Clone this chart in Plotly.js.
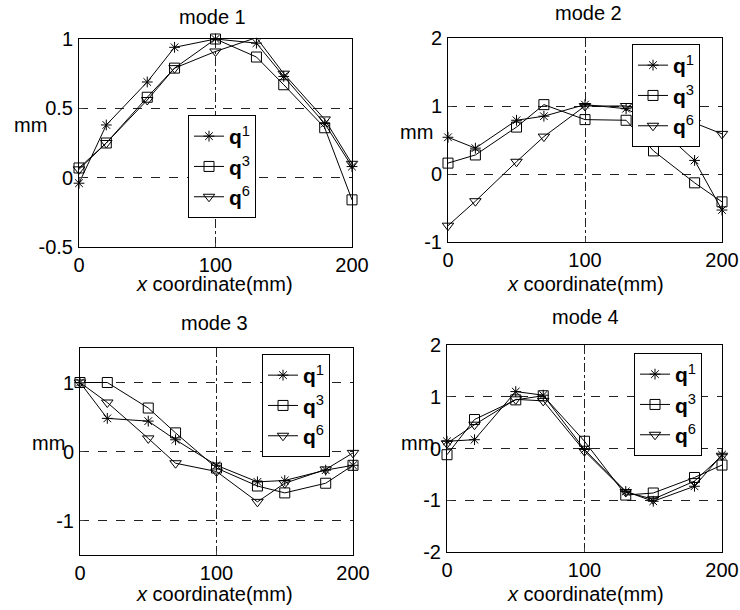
<!DOCTYPE html>
<html><head><meta charset="utf-8">
<script src="https://cdn.plot.ly/plotly-3.0.1.min.js"></script>
<style>html,body{margin:0;padding:0;background:#fff}#c{width:740px;height:610px}</style>
</head><body><div id="c"></div>
<script>
const xs = [0, 20, 50, 70, 100, 130, 150, 180, 200];
const seriesNames = ['q1', 'q3', 'q6'];
const legendLabels = ['<b>q</b><sup>1</sup>', '<b>q</b><sup>3</sup>', '<b>q</b><sup>6</sup>'];
const modeTitles = ['mode 1', 'mode 2', 'mode 3', 'mode 4'];

const mode1_q1 = [-0.04, 0.38, 0.69, 0.94, 1.0, 0.97, 0.73, 0.39, 0.08];
const mode1_q3 = [0.07, 0.25, 0.58, 0.79, 1.0, 0.87, 0.67, 0.36, -0.16];
const mode1_q6 = [0.06, 0.25, 0.56, 0.79, 0.91, 1.01, 0.75, 0.42, 0.10];

const mode2_q1 = [0.54, 0.38, 0.79, 0.85, 1.02, 0.96, 0.75, 0.20, -0.53];
const mode2_q3 = [0.16, 0.28, 0.69, 1.02, 0.80, 0.79, 0.34, -0.13, -0.41];
const mode2_q6 = [-0.76, -0.40, 0.18, 0.55, 1.00, 1.00, 0.90, 0.75, 0.59];

const mode3_q1 = [1.0, 0.48, 0.44, 0.17, -0.20, -0.44, -0.42, -0.27, -0.20];
const mode3_q3 = [1.0, 1.0, 0.63, 0.27, -0.24, -0.50, -0.60, -0.46, -0.20];
const mode3_q6 = [1.0, 0.71, 0.19, -0.17, -0.29, -0.73, -0.46, -0.26, -0.02];

const mode4_q1 = [0.14, 0.17, 1.10, 1.03, -0.02, -0.83, -1.02, -0.73, -0.12];
const mode4_q3 = [-0.12, 0.56, 0.94, 1.02, 0.14, -0.90, -0.86, -0.56, -0.32];
const mode4_q6 = [0.10, 0.46, 0.95, 0.92, -0.05, -0.84, -0.98, -0.63, -0.14];

const modeData = [
  [mode1_q1, mode1_q3, mode1_q6],
  [mode2_q1, mode2_q3, mode2_q6],
  [mode3_q1, mode3_q3, mode3_q6],
  [mode4_q1, mode4_q3, mode4_q6]
];

const yTicks = [
  { vals: [-0.5, 0, 0.5, 1], text: ['-0.5', '0', '0.5', '1'], range: [-0.5, 1] },
  { vals: [-1, 0, 1, 2], text: ['-1', '0', '1', '2'], range: [-1, 2] },
  { vals: [-1, 0, 1], text: ['-1', '0', '1'], range: [-1.5, 1.5] },
  { vals: [-2, -1, 0, 1, 2], text: ['-2', '-1', '0', '1', '2'], range: [-2, 2] }
];
const xTickVals = [0, 100, 200];
const xTickText = ['0', '100', '200'];

const W = 740, H = 610;
// plot boxes in pixels [left, right, top, bottom]
const boxes = [
  [79, 352, 39, 247],
  [448, 722, 38, 242],
  [80, 353, 348, 555],
  [447, 722, 345, 552]
];
const legendPos = [[188, 115], [632, 44], [262, 354], [634, 353]];
const titlePos = [[212, 17], [588, 13], [215, 323], [585, 317]];
const mmPos = [[30, 125], [416, 132], [48, 443], [417, 443]];
const xlabPos = [[214, 284], [585, 284], [214, 594], [585, 594]];

const symbols = ['asterisk-open', 'square-open', 'triangle-down-open'];
const sizes = [9, 10, 10];

const FONT = 'Liberation Sans, Arial, sans-serif';
const traces = [];
const layout = {
  width: W, height: H, margin: { l: 0, r: 0, t: 0, b: 0 },
  paper_bgcolor: '#fff', plot_bgcolor: '#fff',
  font: { family: FONT, color: '#000', size: 20 },
  annotations: []
};

for (let m = 0; m < 4; m++) {
  const ax = m === 0 ? '' : String(m + 1);
  const b = boxes[m];
  const legName = m === 0 ? 'legend' : 'legend' + (m + 1);
  for (let s = 0; s < 3; s++) {
    traces.push({
      type: 'scatter', mode: 'lines+markers',
      x: xs, y: modeData[m][s],
      xaxis: 'x' + ax, yaxis: 'y' + ax,
      name: legendLabels[s], legend: legName,
      line: { color: '#000', width: 1 },
      marker: { symbol: symbols[s], size: sizes[s], color: '#000', line: { color: '#000', width: 1 } },
      cliponaxis: false
    });
  }
  layout['xaxis' + ax] = {
    domain: [b[0] / W, b[1] / W], anchor: 'y' + ax, range: [0, 200],
    tickvals: xTickVals, ticktext: xTickText, ticks: 'inside', ticklen: 4,
    showline: true, mirror: true, linecolor: '#000', linewidth: 1,
    showgrid: true, gridcolor: '#222', griddash: 'dashdot', gridwidth: 1,
    zeroline: false, tickfont: { size: 20, family: FONT }, fixedrange: true
  };
  layout['yaxis' + ax] = {
    domain: [1 - b[3] / H, 1 - b[2] / H], anchor: 'x' + ax, range: yTicks[m].range,
    tickvals: yTicks[m].vals, ticktext: yTicks[m].text, ticks: 'inside', ticklen: 4,
    showline: true, mirror: true, linecolor: '#000', linewidth: 1,
    showgrid: true, gridcolor: '#222', griddash: 'dash', gridwidth: 1,
    zeroline: false, tickfont: { size: 20, family: FONT }, fixedrange: true, ticklabelstandoff: 1
  };
  layout[legName] = {
    x: legendPos[m][0] / W, y: 1 - legendPos[m][1] / H, xanchor: 'left', yanchor: 'top',
    xref: 'paper', yref: 'paper',
    bgcolor: '#fff', bordercolor: '#000', borderwidth: 1,
    font: { size: 21, family: FONT, color: '#000' }, tracegroupgap: 0
  };
  layout.annotations.push({
    xref: 'paper', yref: 'paper', x: titlePos[m][0] / W, y: 1 - titlePos[m][1] / H,
    text: modeTitles[m], showarrow: false, font: { size: 20, family: FONT }, xanchor: 'center', yanchor: 'middle'
  });
  layout.annotations.push({
    xref: 'paper', yref: 'paper', x: mmPos[m][0] / W, y: 1 - mmPos[m][1] / H,
    text: 'mm', showarrow: false, font: { size: 20, family: FONT }, xanchor: 'center', yanchor: 'middle'
  });
  layout.annotations.push({
    xref: 'paper', yref: 'paper', x: xlabPos[m][0] / W, y: 1 - xlabPos[m][1] / H,
    text: '<i>x</i> coordinate(mm)', showarrow: false, font: { size: 20, family: FONT }, xanchor: 'center', yanchor: 'middle'
  });
}

Plotly.newPlot('c', traces, layout, { displayModeBar: false, staticPlot: true });
</script>
</body></html>
